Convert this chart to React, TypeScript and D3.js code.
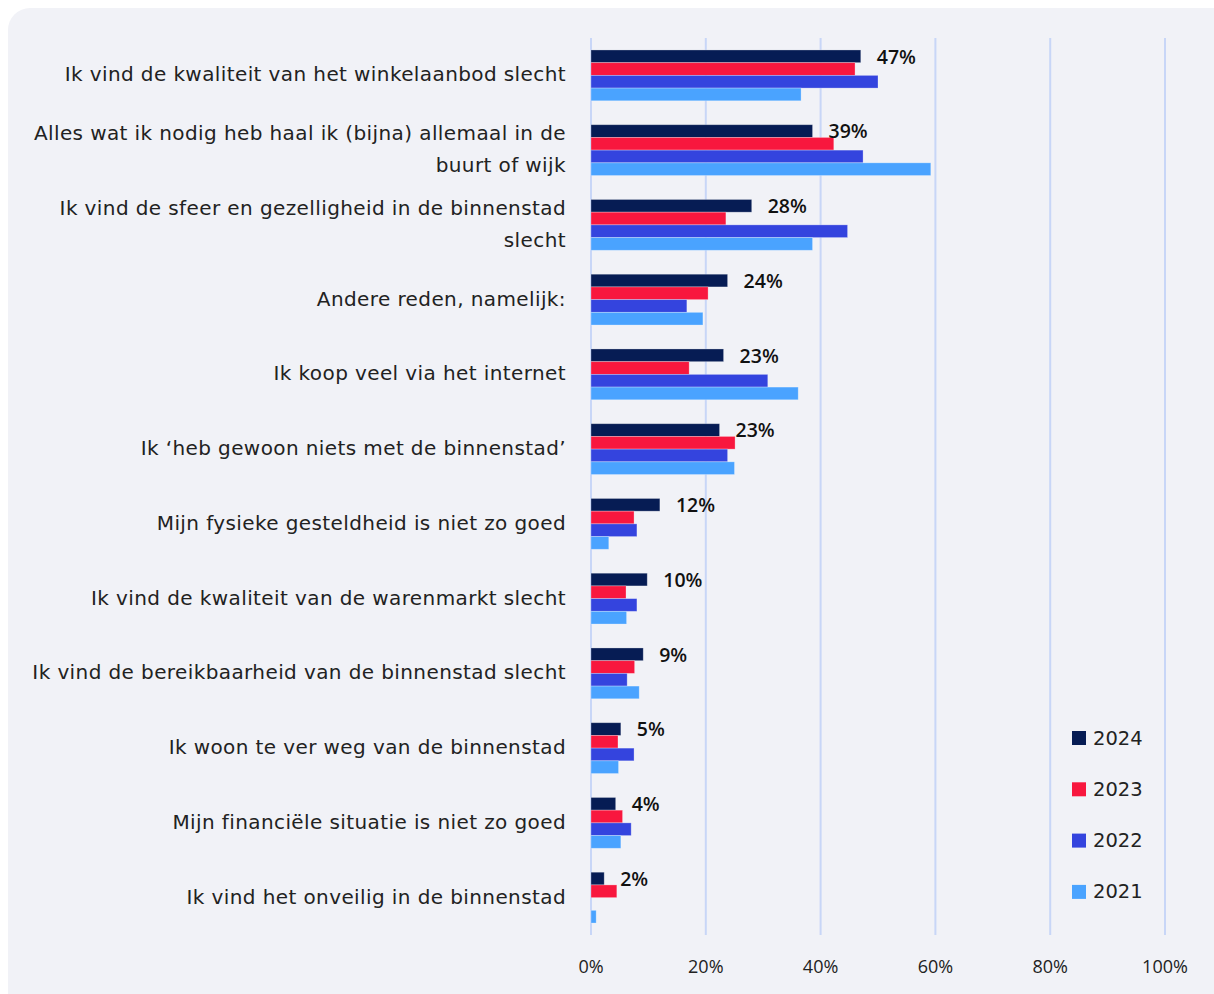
import React, { useEffect } from "react";
import * as d3 from "d3";

// Redenen (categorieën), van boven naar beneden
const categories = [
  "Ik vind de kwaliteit van het winkelaanbod slecht",
  "Alles wat ik nodig heb haal ik (bijna) allemaal in de\nbuurt of wijk",
  "Ik vind de sfeer en gezelligheid in de binnenstad\nslecht",
  "Andere reden, namelijk:",
  "Ik koop veel via het internet",
  "Ik ‘heb gewoon niets met de binnenstad’",
  "Mijn fysieke gesteldheid is niet zo goed",
  "Ik vind de kwaliteit van de warenmarkt slecht",
  "Ik vind de bereikbaarheid van de binnenstad slecht",
  "Ik woon te ver weg van de binnenstad",
  "Mijn financiële situatie is niet zo goed",
  "Ik vind het onveilig in de binnenstad",
];

const years = ["2024", "2023", "2022", "2021"];

const values2024 = [47, 38.6, 28, 23.8, 23.1, 22.4, 12, 9.8, 9.1, 5.2, 4.3, 2.3];
const values2023 = [46, 42.3, 23.5, 20.4, 17.1, 25.1, 7.5, 6.1, 7.6, 4.7, 5.5, 4.5];
const values2022 = [50, 47.4, 44.7, 16.7, 30.8, 23.8, 8, 8, 6.3, 7.5, 7, 0];
const values2021 = [36.6, 59.2, 38.6, 19.5, 36.1, 25, 3.1, 6.2, 8.4, 4.8, 5.2, 0.9];

const labels2024 = ["47%", "39%", "28%", "24%", "23%", "23%", "12%", "10%", "9%", "5%", "4%", "2%"];

const xTicks = [0, 20, 40, 60, 80, 100];

const colors: Record<string, string> = {
  "2024": "#061c54",
  "2023": "#f8173e",
  "2022": "#3444de",
  "2021": "#4aa3ff",
};

const FONT = "'Open Sans', 'Noto Sans', sans-serif";
const LABEL_FONT = "'DejaVu Sans', 'Open Sans', sans-serif";

export default function App() {
  useEffect(() => {
    document.body.style.margin = "0";
    document.body.style.overflow = "hidden";
  }, []);

  const width = 1214;
  const height = 994;
  const x0 = 591;
  const x1 = 1165;
  const yTop = 38;
  const yBottom = 935;

  const series = [values2024, values2023, values2022, values2021];

  const x = d3.scaleLinear().domain([0, 100]).range([x0, x1]);
  const y = d3.scaleBand<string>().domain(categories).range([yTop, yBottom]).paddingInner(0.32).paddingOuter(0.16);
  const yInner = d3.scaleBand<string>().domain(years).range([0, y.bandwidth()]);

  return (
    <svg width={width} height={height} style={{ display: "block", fontFamily: FONT }}>
      <rect x={0} y={0} width={width} height={height} fill="#ffffff" />
      <rect x={8} y={8} width={width - 8 + 30} height={height + 30} rx={22} fill="#f1f2f7" />

      {/* rasterlijnen */}
      {xTicks.map((t) => (
        <line key={t} x1={x(t)} x2={x(t)} y1={yTop} y2={yBottom} stroke="#c8d6f7" strokeWidth={2} />
      ))}

      {/* balken */}
      {categories.map((c, i) => (
        <g key={c} transform={`translate(0,${y(c)})`}>
          {years.map((yr, j) => (
            <rect
              key={yr}
              x={x(0)}
              y={yInner(yr)}
              width={Math.max(0, x(series[j][i]) - x(0))}
              height={yInner.bandwidth()}
              fill={colors[yr]}
              stroke="#ffffff"
              strokeOpacity={0.35}
              strokeWidth={0.8}
            />
          ))}
          <text
            x={x(values2024[i]) + 16}
            y={(yInner("2024") as number) + yInner.bandwidth() / 2 + 2}
            dominantBaseline="middle"
            fontSize={19.5}
            fontWeight={600}
            fill="#111"
          >
            {labels2024[i]}
          </text>
        </g>
      ))}

      {/* categorielabels */}
      {categories.map((c) => {
        const lines = c.split("\n");
        const cy = (y(c) as number) + y.bandwidth() / 2;
        const lh = 32;
        return (
          <text
            key={c}
            x={566}
            textAnchor="end"
            fontSize={20}
            letterSpacing={0.4}
            fontFamily={LABEL_FONT}
            fill="#222"
            dominantBaseline="middle"
          >
            {lines.map((l, k) => (
              <tspan key={k} x={566} y={cy + (k - (lines.length - 1) / 2) * lh}>
                {l}
              </tspan>
            ))}
          </text>
        );
      })}

      {/* x-as labels */}
      {xTicks.map((t) => (
        <text key={t} x={x(t)} y={968} textAnchor="middle" dominantBaseline="middle" fontSize={18} fill="#222">
          {d3.format("d")(t)}%
        </text>
      ))}

      {/* legenda */}
      {years.map((yr, k) => (
        <g key={yr} transform={`translate(1072,${738 + k * 51.3})`}>
          <rect x={0} y={-7} width={14} height={14} fill={colors[yr]} />
          <text x={21} y={1} dominantBaseline="middle" fontSize={19.5} fontFamily={LABEL_FONT} fill="#222">
            {yr}
          </text>
        </g>
      ))}
    </svg>
  );
}
